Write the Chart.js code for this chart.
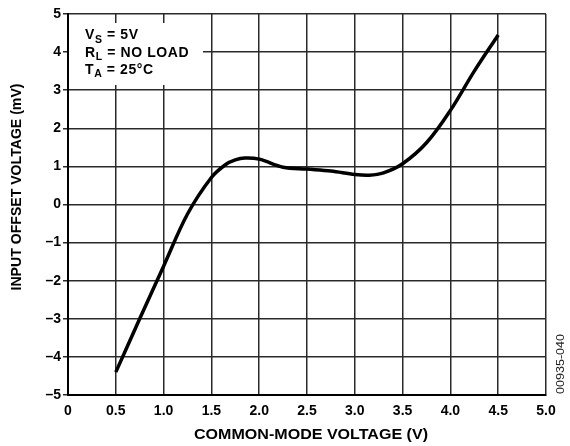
<!DOCTYPE html>
<html>
<head>
<meta charset="utf-8">
<script src="https://cdn.jsdelivr.net/npm/chart.js@4/dist/chart.umd.min.js"></script>
<style>
html,body{margin:0;padding:0;background:#fff;}
#wrap{width:570px;height:446px;position:relative;}
</style>
</head>
<body>
<div id="wrap"><canvas id="c" width="570" height="446"></canvas></div>
<script>
// Data
const cmVoltage = [0.5, 0.75, 1.0, 1.25, 1.5, 1.65, 1.75, 1.85, 2.0, 2.25, 2.5, 2.75, 3.0, 3.15, 3.3, 3.5, 3.75, 4.0, 4.25, 4.5];
const offsetMv  = [-4.4, -3.0, -1.62, -0.25, 0.71, 1.05, 1.17, 1.22, 1.19, 0.98, 0.93, 0.88, 0.79, 0.77, 0.83, 1.07, 1.62, 2.47, 3.5, 4.45];
const xTickValues = [0, 0.5, 1.0, 1.5, 2.0, 2.5, 3.0, 3.5, 4.0, 4.5, 5.0];
const yTickValues = [-5, -4, -3, -2, -1, 0, 1, 2, 3, 4, 5];
const conditions = [["V", "S", " = 5V"], ["R", "L", " = NO LOAD"], ["T", "A", " = 25°C"]];
const xTitle = "COMMON-MODE VOLTAGE (V)";
const yTitle = "INPUT OFFSET VOLTAGE (mV)";
const figureCode = "00935-040";

const FONT = "'Liberation Sans', Arial, sans-serif";

const points = cmVoltage.map((x, i) => ({x: x, y: offsetMv[i]}));

const annotPlugin = {
  id: 'annot',
  beforeDatasetsDraw(chart) {
    const ctx = chart.ctx;
    const area = chart.chartArea;
    ctx.save();
    ctx.fillStyle = '#fff';
    ctx.fillRect(area.left + 1, 23, 203 - area.left - 1, 62);
    ctx.restore();
  },
  afterDraw(chart) {
    const ctx = chart.ctx;
    ctx.save();
    ctx.fillStyle = '#000';
    ctx.textBaseline = 'alphabetic';
    ctx.textAlign = 'left';
    const x0 = 85;
    const baselines = [39, 56.5, 73.5];
    conditions.forEach((c, i) => {
      let x = x0;
      const y = baselines[i];
      ctx.letterSpacing = '0.6px';
      ctx.font = "bold 14px " + FONT;
      ctx.fillText(c[0], x, y);
      x += ctx.measureText(c[0]).width;
      ctx.font = "bold 10.5px " + FONT;
      ctx.fillText(c[1], x, y + 3.5);
      x += ctx.measureText(c[1]).width;
      ctx.font = "bold 14px " + FONT;
      ctx.fillText(c[2], x, y);
    });
    ctx.letterSpacing = '0px';

    // axis titles
    ctx.textAlign = 'center';
    ctx.textBaseline = 'middle';
    ctx.save();
    ctx.font = "bold 15px " + FONT;
    ctx.translate(311, 435);
    const wx = ctx.measureText(xTitle).width;
    ctx.scale(234 / wx, 1);
    ctx.fillText(xTitle, 0, 0);
    ctx.restore();

    ctx.save();
    ctx.translate(17.5, 187);
    ctx.rotate(-Math.PI / 2);
    ctx.font = "bold 14px " + FONT;
    const wy = ctx.measureText(yTitle).width;
    ctx.scale(207 / wy, 1);
    ctx.fillText(yTitle, 0, 0);
    ctx.restore();

    // figure code
    ctx.save();
    ctx.font = "10px " + FONT;
    ctx.fillStyle = '#222';
    ctx.translate(561.5, 364);
    ctx.rotate(-Math.PI / 2);
    const wc = ctx.measureText(figureCode).width;
    ctx.scale(60 / wc, 1);
    ctx.fillText(figureCode, 0, 0);
    ctx.restore();
    ctx.restore();
  }
};

new Chart(document.getElementById('c'), {
  type: 'scatter',
  data: {
    datasets: [{
      data: points,
      showLine: true,
      borderColor: '#000',
      borderWidth: 3.5,
      pointRadius: 0,
      tension: 0.35,
      fill: false
    }]
  },
  options: {
    responsive: false,
    animation: false,
    devicePixelRatio: 1,
    layout: {padding: {left: 0, right: 24, top: 14, bottom: 0}},
    plugins: {legend: {display: false}, tooltip: {enabled: false}},
    scales: {
      x: {
        type: 'linear',
        min: 0, max: 5,
        afterBuildTicks(axis) { axis.ticks = xTickValues.map(v => ({value: v})); },
        afterFit(axis) { axis.height = 51; },
        ticks: {
          color: '#000',
          font: {family: FONT, size: 14, weight: 'bold'},
          padding: 8,
          maxRotation: 0,
          autoSkip: false,
          callback: v => (v === 0 ? '0' : v.toFixed(1))
        },
        grid: {color: '#2a2a2a', lineWidth: 1.5, drawTicks: false},
        border: {color: '#000', width: 2},
        title: {display: false}
      },
      y: {
        type: 'linear',
        min: -5, max: 5,
        afterBuildTicks(axis) { axis.ticks = yTickValues.map(v => ({value: v})); },
        afterFit(axis) { axis.width = 68; },
        ticks: {
          color: '#000',
          font: {family: FONT, size: 14, weight: 'bold'},
          padding: 2,
          autoSkip: false,
          callback: v => (v < 0 ? '\u2013' + Math.abs(v) : String(v))
        },
        grid: {color: '#2a2a2a', lineWidth: 1.5, tickLength: 5},
        border: {color: '#000', width: 2},
        title: {display: false}
      }
    }
  },
  plugins: [annotPlugin]
});
</script>
</body>
</html>
